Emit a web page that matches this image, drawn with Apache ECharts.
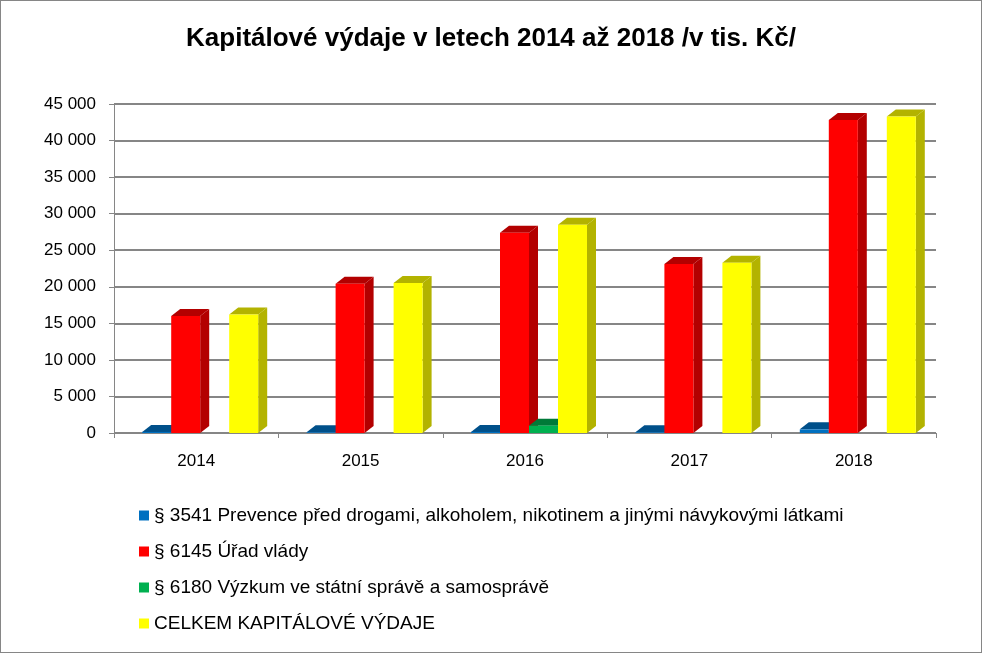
<!DOCTYPE html>
<html lang="cs">
<head>
<meta charset="UTF-8">
<title>Kapitálové výdaje</title>
<script src="https://cdn.jsdelivr.net/npm/echarts@6/dist/echarts.min.js"></script>
<style>
html,body{margin:0;padding:0;background:#fff;}
#main{width:980px;height:651px;border:1px solid #868686;}
</style>
</head>
<body>
<div id="main"></div>
<script>
// data
var years = ['2014', '2015', '2016', '2017', '2018'];
var names = [
    '§ 3541 Prevence před drogami, alkoholem, nikotinem a jinými návykovými látkami',
    '§ 6145 Úřad vlády',
    '§ 6180 Výzkum ve státní správě a samosprávě',
    'CELKEM KAPITÁLOVÉ VÝDAJE'
];
var prevence = [150, 100, 150, 100, 500];
var uradVlady = [16000, 20400, 27400, 23100, 42800];
var vyzkum = [0, 0, 1000, 0, 0];
var celkem = [16200, 20500, 28500, 23300, 43300];
var colors = [['#0070c0', '#00508a'], ['#ff0000', '#b30000'], ['#00b050', '#007a38'], ['#ffff00', '#b3b300']];

var myChart = echarts.init(document.getElementById('main'));

function bar3d(idx) {
    return function (params, api) {
        var v = api.value(1);
        var base = api.coord([api.value(0), 0]);
        var top = api.coord([api.value(0), v]);
        var w = 29, dx = 9, dy = 7;
        var x = base[0] - 54 + idx * 29;
        var y0 = base[1], y1 = top[1];
        var c = colors[idx];
        if (v <= 0) return null;
        return {
            type: 'group',
            children: [
                {type: 'polygon', shape: {points: [[x + w, y1], [x + w + dx, y1 - dy], [x + w + dx, y0 - dy], [x + w, y0]]}, style: {fill: c[1]}},
                {type: 'polygon', shape: {points: [[x, y1], [x + dx, y1 - dy], [x + w + dx, y1 - dy], [x + w, y1]]}, style: {fill: c[1]}},
                {type: 'rect', shape: {x: x, y: y1, width: w, height: y0 - y1}, style: {fill: c[0]}}
            ]
        };
    };
}

var allData = [prevence, uradVlady, vyzkum, celkem];
var series = allData.map(function (arr, i) {
    return {
        name: names[i],
        type: 'custom',
        renderItem: bar3d(i),
        itemStyle: {color: colors[i][0]},
        encode: {x: 0, y: 1},
        data: arr.map(function (v, j) { return [j, v]; })
    };
});

option = {
    title: {
        text: 'Kapitálové výdaje v letech 2014 až 2018 /v tis. Kč/',
        left: 'center',
        top: 20,
        textStyle: {fontFamily: 'Liberation Sans', fontSize: 26, fontWeight: 'bold', color: '#000'}
    },
    legend: {
        orient: 'vertical',
        left: 133,
        top: 500,
        itemGap: 17,
        itemWidth: 10,
        itemHeight: 10,
        icon: 'rect',
        textStyle: {fontFamily: 'Liberation Sans', fontSize: 19, color: '#000'},
        data: names
    },
    grid: {left: 113, right: 45, top: 103, bottom: 219},
    xAxis: {
        type: 'category',
        data: years,
        axisLine: {lineStyle: {color: '#868686'}},
        axisTick: {show: true, lineStyle: {color: '#868686'}},
        axisLabel: {fontFamily: 'Liberation Sans', fontSize: 17, color: '#000', margin: 20}
    },
    yAxis: {
        type: 'value',
        min: 0,
        max: 45000,
        interval: 5000,
        axisLine: {show: true, lineStyle: {color: '#868686'}},
        axisTick: {show: true, lineStyle: {color: '#868686'}},
        splitLine: {lineStyle: {color: '#868686', width: 2}},
        axisLabel: {
            fontFamily: 'Liberation Sans', fontSize: 17, color: '#000', margin: 18,
            formatter: function (v) { return String(v).replace(/\B(?=(\d{3})+(?!\d))/g, ' '); }
        }
    },
    series: series
};
myChart.setOption(option);
</script>
</body>
</html>
